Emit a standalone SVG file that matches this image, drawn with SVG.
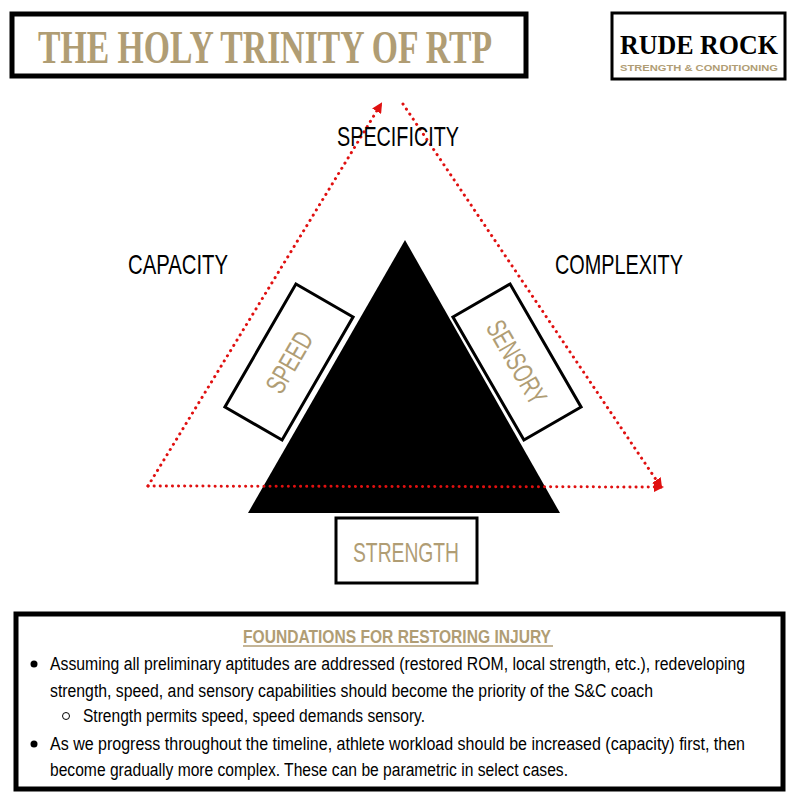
<svg xmlns="http://www.w3.org/2000/svg" width="800" height="800" viewBox="0 0 800 800">
<style>
.c{font-family:"Liberation Sans","DejaVu Sans",sans-serif;}
.g{fill:#b09d74;}
.bx{fill:#fff;stroke:#000;}
.red{fill:none;stroke:#e01010;stroke-width:3;stroke-dasharray:0.1 6;stroke-linecap:round;}
.b{font-size:18px;fill:#000;}
</style>
<defs>
<marker id="ah" viewBox="0 0 10 10" refX="8" refY="5" markerWidth="3.5" markerHeight="3.5" orient="auto"><path d="M0,0 L10,5 L0,10 z" fill="#e01010"/></marker>
</defs>
<rect width="800" height="800" fill="#fff"/>
<g id="title"><rect class="bx" x="12" y="14" width="514" height="62" stroke-width="5"/>
<text class="g" x="38" y="63" font-family="Liberation Serif,serif" font-weight="bold" font-size="46" textLength="454" lengthAdjust="spacingAndGlyphs">THE HOLY TRINITY OF RTP</text></g>
<g id="logo"><rect class="bx" x="612" y="13" width="173" height="66" stroke-width="3"/>
<text x="620" y="54" font-family="Liberation Serif,serif" font-weight="bold" font-size="28" textLength="158" lengthAdjust="spacingAndGlyphs">RUDE ROCK</text>
<text class="g c" x="620" y="71" font-weight="bold" font-size="9" textLength="158" lengthAdjust="spacingAndGlyphs">STRENGTH &amp; CONDITIONING</text></g>
<g id="core"><polygon points="405,240 248,513 560,513" fill="#000"/></g>
<g id="connectors">
<line class="red" x1="148" y1="486" x2="381" y2="104" marker-end="url(#ah)"/>
<line class="red" x1="403" y1="104" x2="661" y2="487" marker-end="url(#ah)"/>
<line class="red" x1="148" y1="486" x2="662" y2="487" marker-end="url(#ah)"/>
</g>
<g id="speed" transform="translate(289,362) rotate(30)"><rect class="bx" x="-33" y="-71" width="66" height="142" stroke-width="3"/>
<text class="c g" transform="rotate(-90)" x="0" y="10" text-anchor="middle" font-size="28" textLength="66" lengthAdjust="spacingAndGlyphs">SPEED</text></g>
<g id="sensory" transform="translate(517,362) rotate(-30)"><rect class="bx" x="-33" y="-71" width="66" height="142" stroke-width="3"/>
<text class="c g" transform="rotate(90)" x="0" y="10" text-anchor="middle" font-size="28" textLength="92" lengthAdjust="spacingAndGlyphs">SENSORY</text></g>
<g id="strength"><rect class="bx" x="336" y="518" width="141" height="65" stroke-width="3"/>
<text class="c g" x="406" y="562" text-anchor="middle" font-size="28" textLength="106" lengthAdjust="spacingAndGlyphs">STRENGTH</text></g>
<g id="labels">
<text class="c" x="398" y="146" text-anchor="middle" font-size="28" textLength="122" lengthAdjust="spacingAndGlyphs">SPECIFICITY</text>
<text class="c" x="178" y="274" text-anchor="middle" font-size="28" textLength="100" lengthAdjust="spacingAndGlyphs">CAPACITY</text>
<text class="c" x="619" y="274" text-anchor="middle" font-size="28" textLength="128" lengthAdjust="spacingAndGlyphs">COMPLEXITY</text>
</g>
<g id="notes"><rect class="bx" x="16" y="614" width="767" height="175" stroke-width="5"/>
<text class="c g" x="243" y="643" font-weight="bold" font-size="19" textLength="308" lengthAdjust="spacingAndGlyphs">FOUNDATIONS FOR RESTORING INJURY</text>
<line x1="243" y1="646" x2="553" y2="646" stroke="#b09d74" stroke-width="1.5"/>
<circle cx="34" cy="664" r="3.5"/>
<text class="c b" x="50" y="670" textLength="695" lengthAdjust="spacingAndGlyphs">Assuming all preliminary aptitudes are addressed (restored ROM, local strength, etc.), redeveloping</text>
<text class="c b" x="50" y="697" textLength="603" lengthAdjust="spacingAndGlyphs">strength, speed, and sensory capabilities should become the priority of the S&amp;C coach</text>
<circle cx="66" cy="716" r="3.5" fill="none" stroke="#000" stroke-width="1"/>
<text class="c b" x="83" y="722" textLength="342" lengthAdjust="spacingAndGlyphs">Strength permits speed, speed demands sensory.</text>
<circle cx="34" cy="744" r="3.5"/>
<text class="c b" x="50" y="750" textLength="695" lengthAdjust="spacingAndGlyphs">As we progress throughout the timeline, athlete workload should be increased (capacity) first, then</text>
<text class="c b" x="50" y="776" textLength="518" lengthAdjust="spacingAndGlyphs">become gradually more complex. These can be parametric in select cases.</text>
</g>
</svg>
